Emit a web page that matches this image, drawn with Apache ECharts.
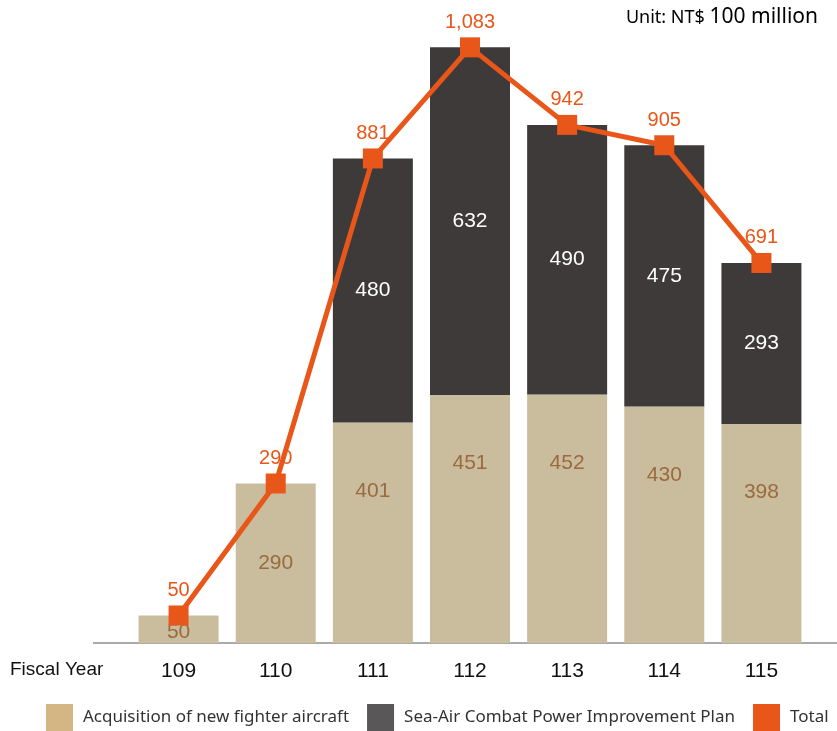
<!DOCTYPE html>
<html>
<head>
<meta charset="utf-8">
<script src="https://cdn.jsdelivr.net/npm/echarts@6/dist/echarts.min.js"></script>
<style>
html,body{margin:0;padding:0;background:#fff;}
#chart{width:837px;height:731px;}
</style>
</head>
<body>
<div id="chart"></div>
<script>
var categories = ['109', '110', '111', '112', '113', '114', '115'];
var fighterValues = [50, 290, 401, 451, 452, 430, 398];
var seaAirValues = [null, null, 480, 632, 490, 475, 293];
var totalValues = [50, 290, 881, 1083, 942, 905, 691];
var seriesNames = ['Acquisition of new fighter aircraft', 'Sea-Air Combat Power Improvement Plan', 'Total'];

var beige = '#C9BD9E', dark = '#3E3A39', orange = '#E9561A';
var numFont = '"Liberation Sans", Arial, sans-serif';
var txtFont = '"Noto Sans", "Open Sans", sans-serif';

function fmt(v) { return String(v).replace(/\B(?=(\d{3})+(?!\d))/g, ','); }

var chart = echarts.init(document.getElementById('chart'), null, {renderer: 'canvas'});
chart.setOption({
  animation: false,
  backgroundColor: '#fff',
  grid: {left: 130, right: 27, top: 38, bottom: 88},
  xAxis: {
    type: 'category',
    data: categories,
    axisLine: {show: false},
    axisTick: {show: false},
    axisLabel: {fontSize: 21, color: '#111', fontFamily: numFont, margin: 18}
  },
  yAxis: {type: 'value', min: 0, max: 1100, show: false, splitLine: {show: false}},
  legend: {
    left: 46, top: 704, right: 0,
    padding: 0,
    icon: 'rect',
    itemWidth: 27, itemHeight: 27,
    itemGap: 18,
    textStyle: {fontSize: 17, color: '#333', fontFamily: txtFont, padding: [0, 0, 0, 5]},
    data: [
      {name: seriesNames[0], itemStyle: {color: '#D3B683'}},
      {name: seriesNames[1], itemStyle: {color: '#5A5758'}},
      {name: seriesNames[2], itemStyle: {color: orange}}
    ]
  },
  graphic: [
    {type: 'line', shape: {x1: 93, y1: 643, x2: 837, y2: 643}, style: {stroke: '#AAAAAA', lineWidth: 2}, z: 0},
    {type: 'text', left: 10, top: 660, style: {text: 'Fiscal Year', font: '19px ' + numFont, fill: '#111'}},
    {type: 'text', right: 19, top: 7, style: {
      text: '{a|Unit: NT$ }{b|100 million}',
      rich: {
        a: {fontSize: 18, fontFamily: txtFont, color: '#222'},
        b: {fontSize: 21, fontFamily: txtFont, color: '#222'}
      }
    }}
  ],
  series: [
    {
      name: seriesNames[0], type: 'bar', stack: 's', barWidth: 80,
      itemStyle: {color: beige},
      label: {show: true, position: 'insideTop', distance: 58, fontSize: 21, color: '#9B6A3E', fontFamily: numFont},
      data: fighterValues.map(function (v) {
        if (v < 100) return {value: v, label: {position: 'insideBottom', distance: 0}};
        if (v < 300) return {value: v, label: {position: 'inside'}};
        return v;
      })
    },
    {
      name: seriesNames[1], type: 'bar', stack: 's', barWidth: 80,
      itemStyle: {color: dark},
      label: {show: true, position: 'inside', fontSize: 21, color: '#fff', fontFamily: numFont},
      data: seaAirValues
    },
    {
      name: seriesNames[2], type: 'line', data: totalValues,
      symbol: 'rect', symbolSize: 20,
      lineStyle: {color: orange, width: 5},
      itemStyle: {color: orange},
      z: 5,
      label: {show: true, position: 'top', distance: 5, fontSize: 20, color: orange, fontFamily: numFont,
        formatter: function (p) { return fmt(p.value); }}
    }
  ]
});
</script>
</body>
</html>
